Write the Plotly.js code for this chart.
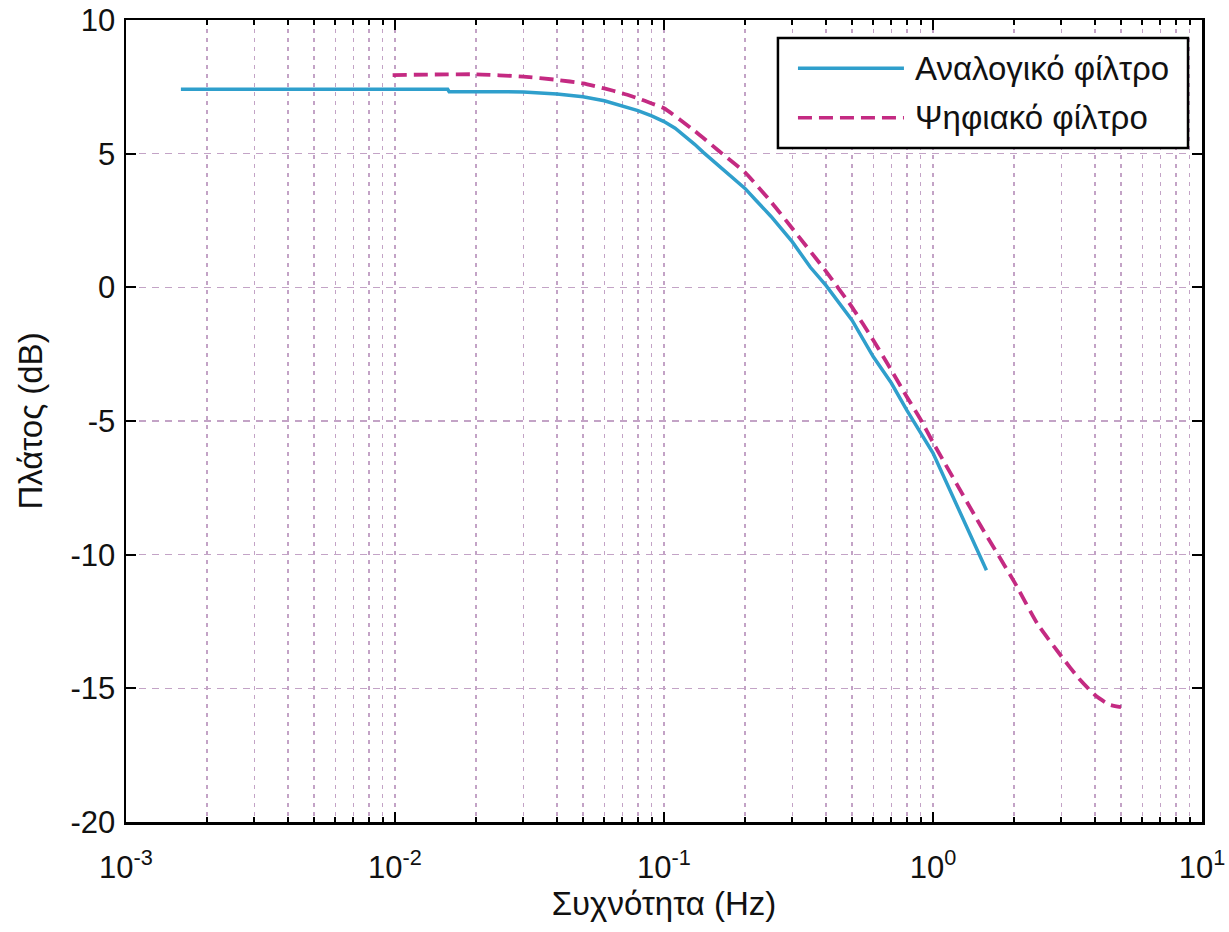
<!DOCTYPE html>
<html>
<head>
<meta charset="utf-8">
<script src="https://cdn.plot.ly/plotly-3.0.1.min.js"></script>
<style>body{margin:0;background:#fff;} #chart{width:1229px;height:932px;}</style>
</head>
<body>
<div id="chart"></div>
<script>
// Analog filter (solid cyan)
const analogFreq = [0.0016, 0.0157, 0.0159, 0.02, 0.03, 0.04, 0.05, 0.06, 0.07, 0.08, 0.09, 0.1, 0.11, 0.12, 0.13, 0.14, 0.16, 0.18, 0.2, 0.22, 0.25, 0.3, 0.35, 0.4, 0.5, 0.6, 0.7, 0.8, 0.9, 1.0, 1.58];
const analogMag  = [7.41, 7.41, 7.32, 7.32, 7.31, 7.23, 7.13, 6.98, 6.78, 6.61, 6.41, 6.2, 5.95, 5.65, 5.35, 5.05, 4.55, 4.12, 3.7, 3.25, 2.65, 1.7, 0.75, 0.07, -1.23, -2.6, -3.58, -4.6, -5.45, -6.2, -10.58];
// Digital filter (dashed magenta)
const digitalFreq = [0.0098, 0.02, 0.03, 0.04, 0.05, 0.06, 0.07, 0.08, 0.09, 0.1, 0.13, 0.16, 0.2, 0.25, 0.3, 0.4, 0.5, 0.6, 0.7, 0.8, 0.9, 1.0, 1.5, 2.0, 2.45, 3.0, 3.5, 4.0, 4.5, 5.0];
const digitalMag  = [7.94, 7.97, 7.88, 7.76, 7.63, 7.44, 7.26, 7.07, 6.88, 6.7, 5.85, 5.1, 4.3, 3.2, 2.2, 0.6, -0.74, -1.98, -3.1, -4.1, -4.95, -5.8, -8.9, -11.0, -12.6, -13.8, -14.65, -15.25, -15.6, -15.7];

const seriesNames = ['Αναλογικό φίλτρο', 'Ψηφιακό φίλτρο'];
const seriesColors = ['#2f9fcc', '#c42a82'];
const seriesDash = ['solid', '14px,7px'];
const xTickVals = [0.001, 0.01, 0.1, 1, 10];
const xTickText = ['10<sup>-3</sup>', '10<sup>-2</sup>', '10<sup>-1</sup>', '10<sup>0</sup>', '10<sup>1</sup>'];
const yTickVals = [-20, -15, -10, -5, 0, 5, 10];
const yTickText = ['-20', '-15', '-10', '-5', '0', '5', '10'];
const xTitle = 'Συχνότητα (Hz)';
const yTitle = 'Πλάτος (dB)';

const gridColor = '#c3a3c6';
const FONT = 'Liberation Sans, Arial, sans-serif';

const traces = [
  {x: analogFreq, y: analogMag, name: seriesNames[0], mode: 'lines', type: 'scatter',
   line: {color: seriesColors[0], width: 3.5, dash: seriesDash[0]}},
  {x: digitalFreq, y: digitalMag, name: seriesNames[1], mode: 'lines', type: 'scatter',
   line: {color: seriesColors[1], width: 3.8, dash: seriesDash[1], shape: 'spline', smoothing: 0.5}}
];

// Custom legend (box, long line samples, labels) in paper coordinates
const legBox = {x0: 0.6059, x1: 0.987, y0: 0.8404, y1: 0.9776};
const legLineX = [0.6245, 0.7230];
const legRowY = [0.9398, 0.8782];
const legTextX = 0.7314;

const shapes = [
  {type: 'rect', xref: 'paper', yref: 'paper', x0: legBox.x0, x1: legBox.x1, y0: legBox.y0, y1: legBox.y1,
   line: {color: '#000', width: 2.5}, fillcolor: '#ffffff', layer: 'above'}
];
const annotations = [];
seriesNames.forEach((nm, i) => {
  shapes.push({type: 'line', xref: 'paper', yref: 'paper', x0: legLineX[0], x1: legLineX[1],
               y0: legRowY[i], y1: legRowY[i], layer: 'above',
               line: {color: seriesColors[i], width: 3.5, dash: seriesDash[i]}});
  annotations.push({xref: 'paper', yref: 'paper', x: legTextX, y: legRowY[i], text: nm,
                    showarrow: false, xanchor: 'left', yanchor: 'middle',
                    font: {family: FONT, size: 33, color: '#111'}});
});

const layout = {
  width: 1229, height: 932,
  margin: {l: 126, r: 27, t: 20, b: 110},
  paper_bgcolor: '#ffffff', plot_bgcolor: '#ffffff',
  font: {family: FONT, color: '#111', size: 31},
  showlegend: false,
  shapes: shapes,
  annotations: annotations,
  xaxis: {
    type: 'log', range: [-3, 1],
    tickvals: xTickVals, ticktext: xTickText,
    ticks: 'inside', ticklen: 10, tickwidth: 2, tickcolor: '#000',
    showline: true, linewidth: 2.5, linecolor: '#000', mirror: 'allticks',
    showgrid: true, gridcolor: gridColor, gridwidth: 1.5, griddash: '4px,5px',
    zeroline: false,
    tickfont: {family: FONT, size: 31, color: '#111'},
    ticklabelstandoff: 16,
    minor: {dtick: 'D1', ticks: 'inside', ticklen: 5, tickwidth: 2, tickcolor: '#000',
            showgrid: true, gridcolor: gridColor, gridwidth: 1.5, griddash: '4px,5px'},
    title: {text: xTitle, font: {family: FONT, size: 33, color: '#111'}, standoff: 4}
  },
  yaxis: {
    range: [-20, 10], tickvals: yTickVals, ticktext: yTickText,
    ticks: 'inside', ticklen: 10, tickwidth: 2, tickcolor: '#000',
    showline: true, linewidth: 2.5, linecolor: '#000', mirror: 'allticks',
    showgrid: true, gridcolor: gridColor, gridwidth: 1.5, griddash: '7px,6px',
    zeroline: false,
    tickfont: {family: FONT, size: 31, color: '#111'},
    ticklabelstandoff: 2,
    title: {text: yTitle, font: {family: FONT, size: 33, color: '#111'}, standoff: 18}
  }
};

Plotly.newPlot('chart', traces, layout, {displayModeBar: false, staticPlot: true});
</script>
</body>
</html>
